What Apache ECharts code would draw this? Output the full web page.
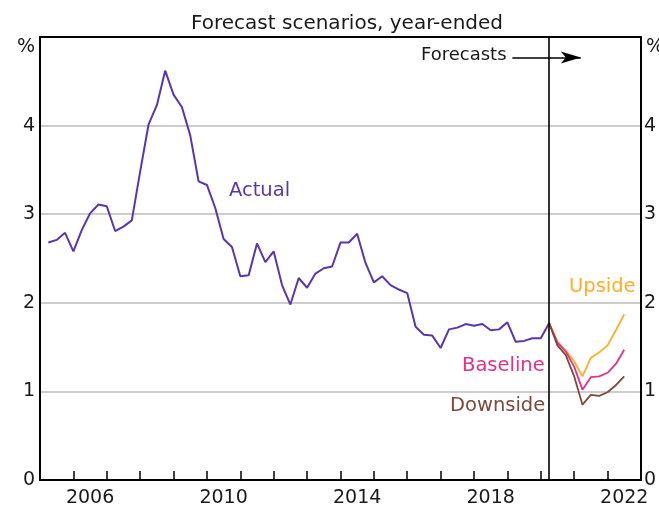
<!DOCTYPE html>
<html>
<head>
<meta charset="utf-8">
<script src="https://cdn.jsdelivr.net/npm/echarts@6/dist/echarts.min.js"></script>
<style>
html,body{margin:0;padding:0;background:#fff;}
#c{width:659px;height:513px;}
</style>
</head>
<body>
<div id="c"></div>
<script>
// ---- data ----
const titleText = 'Forecast scenarios, year-ended';
const actualStart = 2005.25;      // first quarter (decimal year)
const quarterStep = 0.25;
const actual = [2.68, 2.71, 2.79, 2.58, 2.82, 3.01, 3.11, 3.09, 2.81, 2.86,
  2.93, 3.48, 4.01, 4.23, 4.62, 4.35, 4.21, 3.89, 3.37, 3.33,
  3.07, 2.72, 2.63, 2.30, 2.31, 2.67, 2.46, 2.58, 2.20, 1.98,
  2.28, 2.17, 2.33, 2.39, 2.41, 2.68, 2.68, 2.78, 2.45, 2.23,
  2.30, 2.20, 2.15, 2.11, 1.73, 1.64, 1.63, 1.49, 1.70, 1.72,
  1.76, 1.74, 1.76, 1.69, 1.70, 1.78, 1.56, 1.57, 1.60, 1.60,
  1.77];
const forecastStart = 2020.25;
const upside   = [1.77, 1.56, 1.46, 1.34, 1.17, 1.38, 1.44, 1.52, 1.69, 1.87];
const baseline = [1.77, 1.55, 1.45, 1.28, 1.02, 1.16, 1.17, 1.21, 1.31, 1.47];
const downside = [1.77, 1.52, 1.41, 1.17, 0.85, 0.96, 0.95, 0.99, 1.07, 1.17];
const xMin = 2005, xMax = 2023;
const xLabelYears = [2006, 2010, 2014, 2018, 2022];
const yMin = 0, yMax = 5;
const forecastArrowFrom = 2019.15, forecastArrowTo = 2021.2, forecastArrowY = 4.77;

// ---- build ----
const toPairs = (start, arr) => arr.map((v, i) => [start + i * quarterStep, v]);
const FONT = 'DejaVu Sans';
const TXT = '#1a1a1a';

const chart = echarts.init(document.getElementById('c'), null, {renderer: 'canvas'});
const lineSeries = (name, start, arr, color, width) => ({
  name, type: 'line', data: toPairs(start, arr), showSymbol: false, symbol: 'none',
  lineStyle: {color, width}, itemStyle: {color}, silent: true, animation: false,
  xAxisIndex: 0, yAxisIndex: 0
});

const actualS = lineSeries('Actual', actualStart, actual, '#5a35b0', 2);
actualS.markLine = {
  silent: true, animation: false, symbol: 'none', label: {show: false},
  lineStyle: {color: '#000', width: 1.6, type: 'solid'},
  data: [
    {xAxis: forecastStart},
    [
      {coord: [forecastArrowFrom, forecastArrowY], symbol: 'none'},
      {coord: [forecastArrowTo, forecastArrowY], symbol: 'arrow', symbolSize: [9, 20]}
    ]
  ]
};

chart.setOption({
  animation: false,
  backgroundColor: '#fff',
  grid: {left: 40, right: 15, top: 37, bottom: 33, show: false},
  title: {text: titleText, left: 342, top: 9, textAlign: 'center',
    textStyle: {fontFamily: FONT, fontSize: 20, fontWeight: 'normal', color: TXT}},
  xAxis: [
    {type: 'value', min: xMin, max: xMax, interval: 1, position: 'bottom',
      axisLine: {show: true, onZero: false, lineStyle: {color: '#000', width: 2}},
      axisTick: {show: true, inside: true, length: 9, lineStyle: {color: '#000', width: 1.5}},
      axisLabel: {show: false}, splitLine: {show: false}},
    {type: 'value', min: xMin, max: xMax, interval: 0.5, position: 'bottom',
      axisLine: {show: false}, axisTick: {show: false}, splitLine: {show: false},
      axisLabel: {show: true, margin: 9, fontFamily: FONT, fontSize: 19, color: TXT,
        showMinLabel: false, showMaxLabel: false,
        formatter: v => {
          const y = Math.floor(v);
          return (Math.abs(v - y - 0.5) < 1e-6 && xLabelYears.includes(y)) ? String(y) : '';
        }}},
    {type: 'value', min: xMin, max: xMax, interval: 1, position: 'top',
      axisLine: {show: true, onZero: false, lineStyle: {color: '#000', width: 2}},
      axisTick: {show: false}, axisLabel: {show: false}, splitLine: {show: false}}
  ],
  yAxis: [
    {type: 'value', min: yMin, max: yMax, interval: 1, position: 'left',
      axisLine: {show: true, lineStyle: {color: '#000', width: 2}},
      axisTick: {show: false},
      splitLine: {show: true, lineStyle: {color: '#bcbcbc', width: 1.6}},
      axisLabel: {margin: 5, fontFamily: FONT, fontSize: 19, color: TXT,
        formatter: v => v === yMax ? '' : String(v)}},
    {type: 'value', min: yMin, max: yMax, interval: 1, position: 'right',
      axisLine: {show: true, lineStyle: {color: '#000', width: 2}},
      axisTick: {show: false}, splitLine: {show: false},
      axisLabel: {margin: 3, fontFamily: FONT, fontSize: 19, color: TXT,
        formatter: v => v === yMax ? '' : String(v)}}
  ],
  graphic: [
    {type: 'text', left: 17, top: 38, style: {text: '%', font: '19px "DejaVu Sans"', fill: TXT}},
    {type: 'text', left: 646, top: 38, style: {text: '%', font: '19px "DejaVu Sans"', fill: TXT}},
    {type: 'text', left: 229, top: 181, style: {text: 'Actual', font: '19.5px "DejaVu Sans"', fill: '#5a35b0'}},
    {type: 'text', left: 569, top: 277, style: {text: 'Upside', font: '19.5px "DejaVu Sans"', fill: '#ffae2a'}},
    {type: 'text', left: 462, top: 356, style: {text: 'Baseline', font: '19.5px "DejaVu Sans"', fill: '#e6308a'}},
    {type: 'text', left: 450, top: 396, style: {text: 'Downside', font: '19.5px "DejaVu Sans"', fill: '#7a4a3c'}},
    {type: 'text', left: 421, top: 46, style: {text: 'Forecasts', font: '18px "DejaVu Sans"', fill: TXT}}
  ],
  series: [
    actualS,
    lineSeries('Upside', forecastStart, upside, '#ffae2a', 1.8),
    lineSeries('Baseline', forecastStart, baseline, '#e6308a', 1.8),
    lineSeries('Downside', forecastStart, downside, '#7a4a3c', 1.8)
  ]
});
</script>
</body>
</html>
